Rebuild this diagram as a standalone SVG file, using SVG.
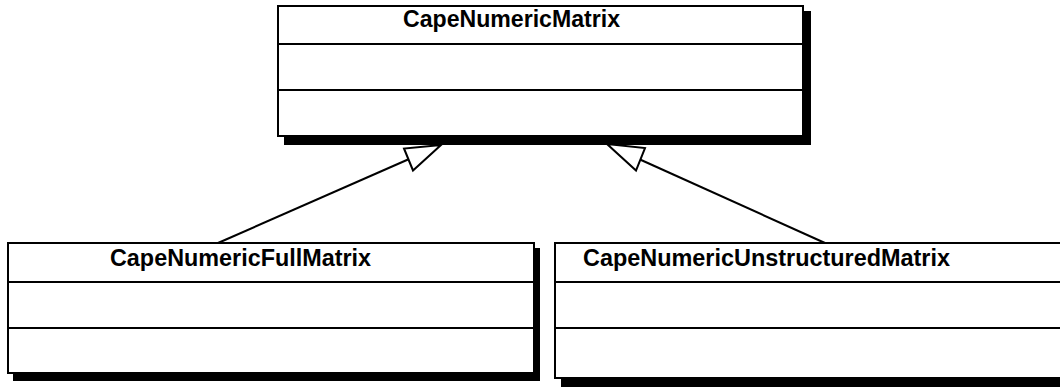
<svg xmlns="http://www.w3.org/2000/svg" width="1060" height="387" viewBox="0 0 1060 387">
<style>
.shadow{fill:#000;stroke:none}
.box{fill:#fff;stroke:#000;stroke-width:2}
.div{stroke:#000;stroke-width:2;fill:none}
.title{font-family:"Liberation Sans",Arial,sans-serif;font-weight:bold;font-size:23px;fill:#000}
.conn{stroke:#000;stroke-width:2;fill:none}
.head{fill:#fff;stroke:#000;stroke-width:2;stroke-linejoin:miter}
</style>
<rect width="1060" height="387" fill="#fff"/>
<g id="CapeNumericMatrix">
<rect class="shadow" x="284" y="11" width="527" height="134"/>
<rect class="box" x="278" y="6" width="525" height="130"/>
<line class="div" x1="278" y1="44" x2="803" y2="44"/>
<line class="div" x1="278" y1="90" x2="803" y2="90"/>
<text class="title" x="403" y="27" textLength="217" lengthAdjust="spacingAndGlyphs">CapeNumericMatrix</text>
</g>
<g id="CapeNumericFullMatrix">
<rect class="shadow" x="13" y="248" width="527" height="133"/>
<rect class="box" x="8" y="243" width="526" height="130"/>
<line class="div" x1="8" y1="282" x2="534" y2="282"/>
<line class="div" x1="8" y1="328" x2="534" y2="328"/>
<text class="title" x="110" y="266" textLength="261" lengthAdjust="spacingAndGlyphs">CapeNumericFullMatrix</text>
</g>
<g id="CapeNumericUnstructuredMatrix">
<rect class="shadow" x="561" y="249" width="520" height="140"/>
<rect class="box" x="555" y="243" width="520" height="135"/>
<line class="div" x1="555" y1="282" x2="1075" y2="282"/>
<line class="div" x1="555" y1="328" x2="1075" y2="328"/>
<text class="title" x="583" y="266" textLength="367" lengthAdjust="spacingAndGlyphs">CapeNumericUnstructuredMatrix</text>
</g>
<g id="connectors">
<line class="conn" x1="218" y1="243" x2="408" y2="159.5"/>
<polygon class="head" points="441,145 404,148.5 413,170.5"/>
<line class="conn" x1="825" y1="243" x2="640" y2="159.5"/>
<polygon class="head" points="607,144 645,148 636,170.5"/>
</g>
</svg>
